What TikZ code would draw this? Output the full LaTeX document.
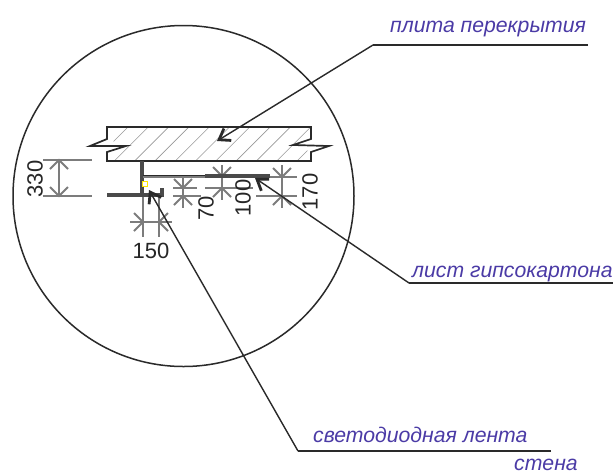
\documentclass[tikz,border=0pt]{standalone}
\usepackage{fontspec}
\setmainfont{Liberation Sans}
\usetikzlibrary{arrows.meta}
\definecolor{lbl}{HTML}{4B3BA6}
\definecolor{dimc}{HTML}{7C7C7C}
\definecolor{ink}{HTML}{2A2A2A}
\tikzset{
  x=1pt,y=-1pt,
  lbltext/.style={font=\itshape\fontsize{21.2}{24}\selectfont,text=lbl,inner sep=0pt,anchor=base west},
  dimtext/.style={font=\fontsize{22}{24}\selectfont,text=black!85,inner sep=0pt},
  leader/.style={draw=ink,line width=1.4pt},
  leaderarrow/.style={leader,-{Straight Barb[length=10pt,width=14pt,line width=2.8pt]}},
  dimline/.style={draw=dimc,line width=1.4pt},
  dimtick/.style={draw=dimc,line width=1.8pt},
  thickpart/.style={draw=ink!85,line width=3.2pt}
}
\newcommand{\tickdown}[2]{\draw[dimtick] (#1-9,#2-9)--(#1,#2)--(#1+9,#2-9);}
\newcommand{\tickup}[2]{\draw[dimtick] (#1-9,#2+9)--(#1,#2)--(#1+9,#2+9);}
\newcommand{\tickright}[2]{\draw[dimtick] (#1-9,#2-9)--(#1,#2)--(#1-9,#2+9);}
\newcommand{\tickleft}[2]{\draw[dimtick] (#1+9,#2-9)--(#1,#2)--(#1+9,#2+9);}
\begin{document}
\begin{tikzpicture}
\useasboundingbox (0,0) rectangle (613,475);
\fill[white] (0,0) rectangle (613,475);
% circle
\draw[ink,line width=1.5pt] (183.5,196) circle[radius=170.5];
% slab hatch
\begin{scope}
\clip (107,127)--(107,139)--(126,146)--(107,152)--(107,161)--(311,161)--(311,152)--(293,145)--(311,139)--(311,127)--cycle;
\foreach \i in {0,...,11}{\draw[gray!80,line width=.6pt] (85+20.3*\i,170)--(85+20.3*\i+50,120);}
\end{scope}
% slab outline
\draw[ink,line width=1.7pt,line join=miter] (107,127)--(311,127)--(311,139)--(293,145)--(329,146)--(311,152)--(311,161)--(107,161)--(107,152)--(126,146)--(90,146)--(107,139)--cycle;
% dimension 330
\draw[dimline] (43,160)--(92,160) (43,196)--(92,196) (59,160)--(59,196);
\draw[dimtick] (50,169)--(59,160)--(68,169) (50,187)--(59,196)--(68,187);
\node[dimtext,rotate=90] (d330) at (35,179) {330};
% dimension 150
\draw[dimline] (143,196)--(143,237) (159,196)--(159,237) (130,222)--(172,222);
\tickright{143}{222}\tickleft{159}{222}
\node[dimtext] (d150) at (151,251) {150};
% dimension 70
\draw[dimline] (183,178)--(183,208) (173,188)--(197,188) (173,196)--(201,196);
\tickdown{183}{188}\tickup{183}{196}
\node[dimtext,rotate=90] (d70) at (206,208) {70};
% dimension 100
\draw[dimline] (222,165)--(222,200) (205,188)--(253,188);
\tickdown{222}{176}\tickup{222}{188}
\node[dimtext,rotate=90] (d100) at (243,198) {100};
% dimension 170
\draw[dimline] (282,165)--(282,208) (270,177)--(297,177) (256,196)--(297,196);
\tickdown{282}{177}\tickup{282}{196}
\node[dimtext,rotate=90] (d170) at (310,192) {170};
% structure
\draw[thickpart] (142,161)--(142,195);
\draw[thickpart] (107,195)--(162,195)--(162,188);
\draw[dimc,line width=1.4pt] (143,177)--(205,177);
\draw[ink,line width=1pt] (143,175)--(205,175);
\draw[thickpart] (205,176)--(270,176);
\node[draw=yellow!90!orange,fill=white,line width=1.3pt,minimum size=4.5pt,inner sep=0pt] (led) at (145,184) {};
% leaders
\coordinate (a1) at (217,141); \coordinate (e1) at (373,45); \coordinate (f1) at (588,45);
\coordinate (a2) at (255,178); \coordinate (e2) at (409,283); \coordinate (f2) at (613,283);
\coordinate (a3) at (149,190); \coordinate (e3) at (298,451); \coordinate (f3) at (551,451);
\draw[leader] (f1)--(e1); \draw[leaderarrow] (e1)--(a1);
\draw[leader] (f2)--(e2); \draw[leaderarrow] (e2)--(a2);
\draw[leader] (f3)--(e3); \draw[leaderarrow] (e3)--(a3);
% labels
\node[lbltext] (t1) at (390,32) {плита перекрытия};
\node[lbltext] (t2) at (412,277) {лист гипсокартона};
\node[lbltext] (t3) at (313,442) {светодиодная лента};
\node[lbltext] (t4) at (514,470.5) {стена};
\end{tikzpicture}
\end{document}
